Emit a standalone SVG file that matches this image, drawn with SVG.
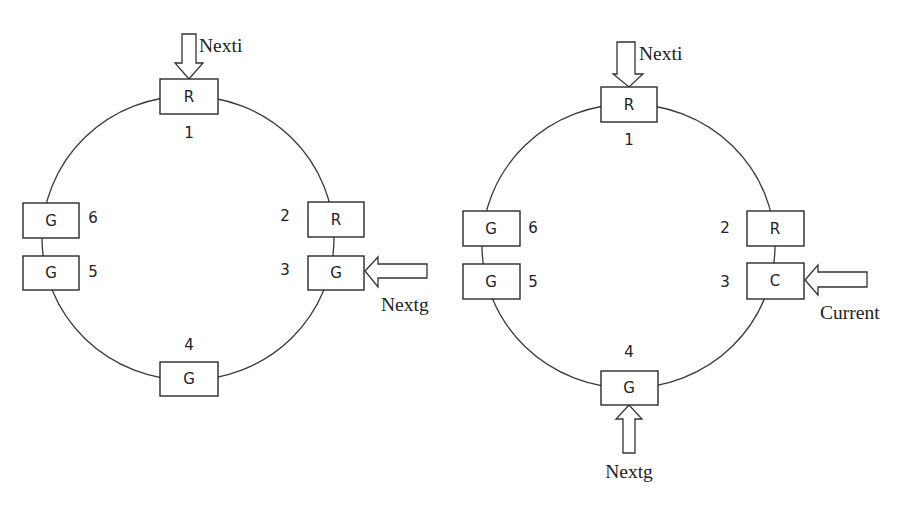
<svg xmlns="http://www.w3.org/2000/svg" width="911" height="510" viewBox="0 0 911 510">
<style>
.ring{fill:none;stroke:#3a3a3a;stroke-width:1.3}
.box rect{fill:#fff;stroke:#2a2a2a;stroke-width:1.4}
.box text,.num{font-family:"DejaVu Sans","Noto Sans",sans-serif;font-size:15px;fill:#222;text-anchor:middle}
.num{font-size:15px}
.arrow{fill:#fff;stroke:#333;stroke-width:1.3;stroke-linejoin:miter}
.ser{font-family:"Liberation Serif","Times New Roman",serif;font-size:19.5px;fill:#222}
</style>
<rect width="911" height="510" fill="#fff"/>
<g id="connectors">
  <ellipse class="ring" cx="188" cy="238" rx="146" ry="142"/>
  <ellipse class="ring" cx="628.5" cy="246" rx="146.5" ry="142"/>
  <polygon class="arrow" points="182,34 196,34 196,63 203,63 189,79 175,63 182,63"/>
  <polygon class="arrow" points="427,264 427,278 378,278 378,287 365,271 378,257 378,264"/>
  <polygon class="arrow" points="617,42 635,42 635,74 643,74 629,87 613,74 617,74"/>
  <polygon class="arrow" points="867,272 867,287 818,287 818,295 805,280 818,265 818,272"/>
  <polygon class="arrow" points="623,453 635,453 635,419 642,419 629,405 616,419 623,419"/>
</g>
<g id="left-1" class="box"><rect x="160" y="79" width="58" height="35"/><text x="189" y="102">R</text></g>
<g id="left-2" class="box"><rect x="308" y="202" width="56" height="35"/><text x="336" y="225">R</text></g>
<g id="left-3" class="box"><rect x="308" y="256" width="56" height="34"/><text x="336" y="278">G</text></g>
<g id="left-4" class="box"><rect x="160" y="362" width="58" height="34"/><text x="189" y="384">G</text></g>
<g id="left-5" class="box"><rect x="23" y="256" width="56" height="34"/><text x="51" y="278">G</text></g>
<g id="left-6" class="box"><rect x="23" y="203" width="56" height="35"/><text x="51" y="226">G</text></g>
<g id="right-1" class="box"><rect x="601" y="87" width="56" height="35"/><text x="629" y="110">R</text></g>
<g id="right-2" class="box"><rect x="747" y="211" width="57" height="35"/><text x="775" y="234">R</text></g>
<g id="right-3" class="box"><rect x="747" y="263" width="57" height="36"/><text x="775" y="286">C</text></g>
<g id="right-4" class="box"><rect x="601" y="371" width="57" height="34"/><text x="629" y="393">G</text></g>
<g id="right-5" class="box"><rect x="463" y="264" width="57" height="35"/><text x="491" y="287">G</text></g>
<g id="right-6" class="box"><rect x="463" y="211" width="57" height="35"/><text x="491" y="234">G</text></g>
<g id="labels">
  <text class="num" x="189" y="138">1</text>
  <text class="num" x="93" y="223">6</text>
  <text class="num" x="93" y="277">5</text>
  <text class="num" x="285" y="221">2</text>
  <text class="num" x="285" y="275">3</text>
  <text class="num" x="189" y="350">4</text>
  <text class="num" x="629" y="145">1</text>
  <text class="num" x="533" y="233">6</text>
  <text class="num" x="533" y="287">5</text>
  <text class="num" x="725" y="233">2</text>
  <text class="num" x="725" y="287">3</text>
  <text class="num" x="629" y="357">4</text>
  <text class="ser" x="199" y="52">Nexti</text>
  <text class="ser" x="381" y="311">Nextg</text>
  <text class="ser" x="639" y="60">Nexti</text>
  <text class="ser" x="820" y="319">Current</text>
  <text class="ser" x="629" y="478" text-anchor="middle">Nextg</text>
</g>
</svg>
